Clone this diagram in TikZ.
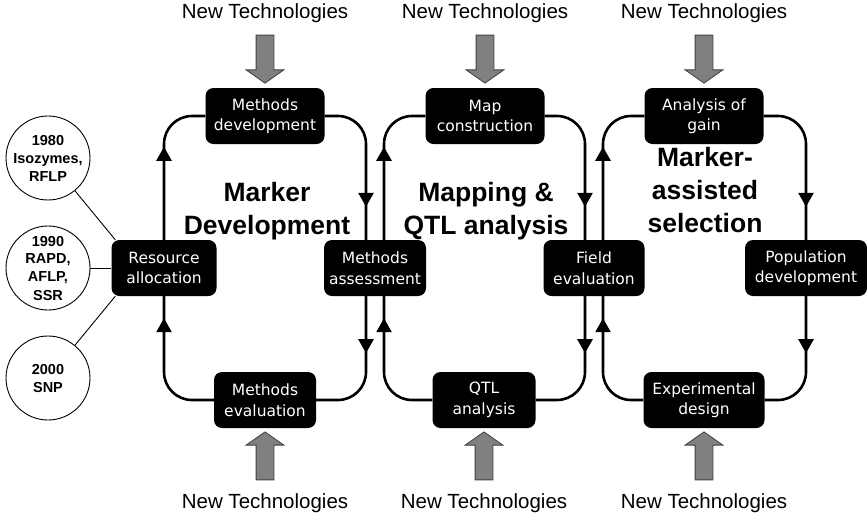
\documentclass[tikz,border=0pt]{standalone}
\usepackage{fontspec}
\setmainfont{Liberation Sans}
\newfontfamily\boxfont{DejaVu Sans}
\usepackage{tikz}
\usetikzlibrary{arrows.meta, positioning, shapes.arrows, decorations.markings}

\begin{document}
\begin{tikzpicture}[
    x=1pt, y=-1pt,
    stage/.style={rectangle, fill=black, text=white, rounded corners=8pt, minimum height=56pt, minimum width=#1, inner sep=2pt, align=center, font=\boxfont\fontsize{15.5}{20.5}\selectfont},
    stage/.default=110pt,
    era/.style={circle, draw, line width=0.9pt, minimum size=84pt, inner sep=0pt, align=center, font=\bfseries\fontsize{14.5}{18}\selectfont},
    title/.style={align=center, font=\bfseries\fontsize{26.5}{33}\selectfont},
    techlabel/.style={anchor=base, font=\fontsize{20.5}{24}\selectfont},
    techarrow/.style={single arrow, draw=black!75, fill=gray, line width=0.8pt, inner xsep=0pt, inner ysep=8.5pt, minimum width=37pt, minimum height=48pt, single arrow head extend=10pt, single arrow tip angle=110, rotate=#1},
    flow/.style={line width=2.6pt, rounded corners=28pt},
    tipat/.style={postaction={decorate}, decoration={markings, mark=at position #1 with {\arrow{Triangle[length=14pt, width=15pt]}}}},
    thinline/.style={line width=0.9pt}
]
\useasboundingbox (0,0) rectangle (867,515);

% Stages
\node[stage=119pt] (mdev) at (265,116) {Methods\\development};
\node[stage=119pt] (mapc) at (485,116) {Map\\construction};
\node[stage=119pt] (gain) at (704,116) {Analysis of\\gain};
\node[stage=105pt] (res) at (164,268) {Resource\\allocation};
\node[stage=102pt] (assess) at (375,268) {Methods\\assessment};
\node[stage=101pt] (field) at (594,268) {Field\\evaluation};
\node[stage=122pt] (pop) at (806,268) {Population\\development};
\node[stage=102pt] (mev) at (265,400) {Methods\\evaluation};
\node[stage=103pt] (qtl) at (484,400) {QTL\\analysis};
\node[stage=121pt] (exp) at (704,400) {Experimental\\design};

% Titles
\node[title] (mdtitle) at (267,211) {Marker\\Development};
\node[title] (qtltitle) at (486,211) {Mapping \&\\QTL analysis};
\node[title] (mastitle) at (705,190) {Marker-\\assisted\\selection};

% Marker eras
\node[era] (y80) at (48,158) {1980\\Isozymes,\\RFLP};
\node[era] (y90) at (48,268) {1990\\RAPD,\\AFLP,\\SSR};
\node[era] (y00) at (48,378) {2000\\SNP};
\draw[thinline] (y80) -- ([xshift=4pt]res.north west);
\draw[thinline] (y90) -- (res);
\draw[thinline] (y00) -- ([xshift=4pt]res.south west);

% Loop 1
\draw[flow, tipat=93pt] (res) |- (mdev);
\draw[flow, tipat=-33pt] (mdev) -| ([xshift=-9pt]assess.north);
\draw[flow, tipat=57pt] ([xshift=-9pt]assess.south) |- (mev);
\draw[flow, tipat=-22pt] (mev) -| (res);

% Loop 2
\draw[flow, tipat=93pt] ([xshift=9pt]assess.north) |- (mapc);
\draw[flow, tipat=-33pt] (mapc) -| ([xshift=-9pt]field.north);
\draw[flow, tipat=57pt] ([xshift=-9pt]field.south) |- (qtl);
\draw[flow, tipat=-22pt] (qtl) -| ([xshift=9pt]assess.south);

% Loop 3
\draw[flow, tipat=93pt] ([xshift=9pt]field.north) |- (gain);
\draw[flow, tipat=-33pt] (gain) -| (pop);
\draw[flow, tipat=57pt] (pop) |- (exp);
\draw[flow, tipat=-22pt] (exp) -| ([xshift=9pt]field.south);

% New technologies
\node[techarrow=-90] (t1) at (265,56) {};
\node[techarrow=-90] (t2) at (485,56) {};
\node[techarrow=-90] (t3) at (704,56) {};
\node[techarrow=90] (b1) at (265,459) {};
\node[techarrow=90] (b2) at (484,459) {};
\node[techarrow=90] (b3) at (704,459) {};
\node[techlabel] (nt1) at (265,18) {New Technologies};
\node[techlabel] (nt2) at (485,18) {New Technologies};
\node[techlabel] (nt3) at (704,18) {New Technologies};
\node[techlabel] (nb1) at (265,508) {New Technologies};
\node[techlabel] (nb2) at (484,508) {New Technologies};
\node[techlabel] (nb3) at (704,508) {New Technologies};
\end{tikzpicture}
\end{document}
